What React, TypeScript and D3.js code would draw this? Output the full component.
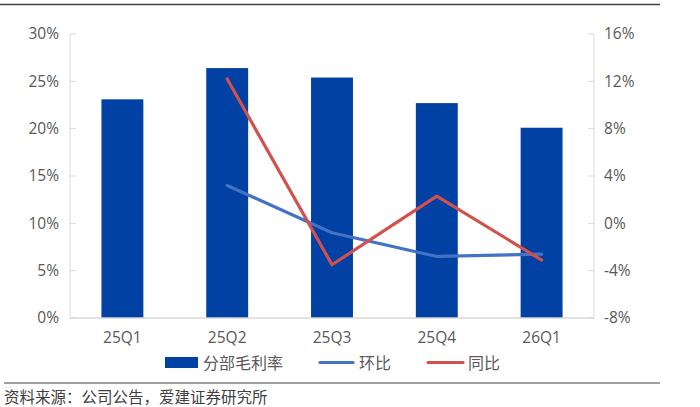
import React from "react";
import * as d3 from "d3";

const quarters = ["25Q1", "25Q2", "25Q3", "25Q4", "26Q1"];
const grossMargin = [23.1, 26.4, 25.4, 22.7, 20.1];
const qoq: (number | null)[] = [null, 3.2, -0.8, -2.8, -2.6];
const yoy: (number | null)[] = [null, 12.2, -3.5, 2.3, -3.1];
const leftTicks = [0, 5, 10, 15, 20, 25, 30];
const rightTicks = [-8, -4, 0, 4, 8, 12, 16];

const W = 700;
const H = 407;
const margin = { top: 34, right: 106, bottom: 89, left: 70 };
const font = "'Open Sans', 'Noto Sans CJK SC', sans-serif";
const cjk = "'Noto Sans CJK SC', sans-serif";
const barColor = "#0041A3";
const blue = "#4472C4";
const red = "#D2504D";
const axisColor = "#D9D9D9";
const textColor = "#595959";

const App: React.FC = () => {
  const x = d3
    .scaleBand()
    .domain(quarters)
    .range([margin.left, W - margin.right])
    .paddingInner(0.6)
    .paddingOuter(0.3);
  const yL = d3.scaleLinear().domain([0, 30]).range([H - margin.bottom, margin.top]);
  const yR = d3.scaleLinear().domain([-8, 16]).range([H - margin.bottom, margin.top]);
  const cx = (q: string) => x(q)! + x.bandwidth() / 2;

  const makeLine = (vals: (number | null)[]) =>
    d3
      .line<number | null>()
      .defined((d) => d !== null)
      .x((_, i) => cx(quarters[i]))
      .y((d) => yR(d as number))(vals) || "";

  const x0 = margin.left;
  const x1 = W - margin.right;
  const yb = H - margin.bottom;

  return (
    <svg width={W} height={H} style={{ position: "absolute", left: 0, top: 0, background: "#fff" }}>
      <line x1={0} x2={660} y1={4.5} y2={4.5} stroke="#404040" strokeWidth={1.5} />

      {/* axes */}
      <line x1={x0} x2={x0} y1={margin.top} y2={yb} stroke={axisColor} strokeWidth={1} />
      <line x1={x1} x2={x1} y1={margin.top} y2={yb} stroke={axisColor} strokeWidth={1} />
      {leftTicks.map((t) => (
        <g key={"l" + t}>
          <line x1={x0} x2={x0 + 6} y1={yL(t)} y2={yL(t)} stroke={axisColor} />
          <text x={59} y={yL(t)} dy="0.35em" textAnchor="end" fontSize={15.5} fontFamily={font} fill={textColor}>
            {t}%
          </text>
        </g>
      ))}
      {rightTicks.map((t) => (
        <g key={"r" + t}>
          <line x1={x1 - 6} x2={x1} y1={yR(t)} y2={yR(t)} stroke={axisColor} />
          <text x={604} y={yR(t)} dy="0.35em" textAnchor="start" fontSize={15.5} fontFamily={font} fill={textColor}>
            {t}%
          </text>
        </g>
      ))}

      {/* bars */}
      {quarters.map((q, i) => (
        <rect
          key={q}
          x={x(q)}
          y={yL(grossMargin[i])}
          width={x.bandwidth()}
          height={yb - yL(grossMargin[i])}
          fill={barColor}
        />
      ))}
      <line x1={x0} x2={x1} y1={yb} y2={yb} stroke={axisColor} strokeWidth={1.5} />

      {/* lines */}
      <path d={makeLine(qoq)} fill="none" stroke={blue} strokeWidth={3.2} strokeLinejoin="round" strokeLinecap="round" />
      <path d={makeLine(yoy)} fill="none" stroke={red} strokeWidth={3.2} strokeLinejoin="round" strokeLinecap="round" />

      {/* x labels */}
      {quarters.map((q) => (
        <text key={"x" + q} x={cx(q)} y={343} textAnchor="middle" fontSize={15.5} fontFamily={font} fill={textColor}>
          {q}
        </text>
      ))}

      {/* legend */}
      <rect x={165} y={357} width={33} height={11} fill={barColor} />
      <text x={203} y={368.5} fontSize={16} fontFamily={cjk} fill={textColor}>
        分部毛利率
      </text>
      <line x1={320} x2={353} y1={362.5} y2={362.5} stroke={blue} strokeWidth={3.2} strokeLinecap="round" />
      <text x={359} y={368.5} fontSize={16} fontFamily={cjk} fill={textColor}>
        环比
      </text>
      <line x1={428} x2={463} y1={362.5} y2={362.5} stroke={red} strokeWidth={3.2} strokeLinecap="round" />
      <text x={468} y={368.5} fontSize={16} fontFamily={cjk} fill={textColor}>
        同比
      </text>

      <line x1={4} x2={660} y1={383} y2={383} stroke="#808080" strokeWidth={1.5} />
      <text x={4} y={402.5} fontSize={15.5} fontFamily={cjk} fill="#404040">
        资料来源：公司公告，爱建证券研究所
      </text>
    </svg>
  );
};

export default App;
